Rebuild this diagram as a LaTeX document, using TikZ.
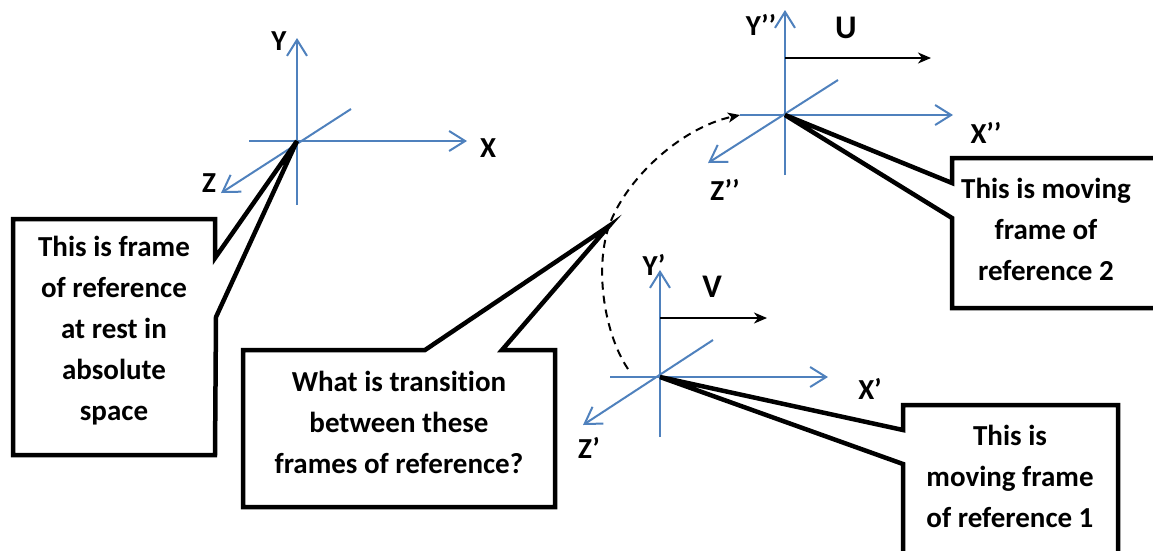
\documentclass[tikz,border=0pt]{standalone}
\usepackage{fontspec}
\setmainfont[Ligatures=NoCommon]{Carlito}
\usetikzlibrary{arrows.meta}
\definecolor{axisblue}{HTML}{4F81BD}

\begin{document}
\begin{tikzpicture}[x=1pt, y=-1pt,
    axis/.style={axisblue, line width=2pt},
    axisarrow/.style={axis, -{Straight Barb[length=16pt, width=20pt]}},
    velarrow/.style={line width=2pt, -{Stealth[length=13pt, width=11pt, inset=4pt]}},
    callout/.style={line width=4.5pt, line join=miter},
    axislabel/.style={font=\fontsize{29}{35}\selectfont\bfseries, inner sep=0pt},
    vellabel/.style={font=\fontsize{33}{40}\selectfont\bfseries, inner sep=0pt},
    note/.style={font=\fontsize{29}{41}\selectfont\bfseries, align=center, inner sep=0pt}]
    \clip (0,0) rectangle (1153,550);

    % frame at rest
    \coordinate (o0) at (297,141);
    \draw[axisarrow] (o0) ++(0,64) -- ++(0,-167);
    \draw[axisarrow] (o0) ++(-48,0) -- ++(218,0);
    \draw[axisarrow] (o0) ++(54,-32) -- ++(-130,84);
    \node[axislabel] (y0) at (279,41) {Y};
    \node[axislabel] (x0) at (488,148) {X};
    \node[axislabel] (z0) at (209,183) {Z};

    % moving frame 2
    \coordinate (o2) at (785,115);
    \draw[axisarrow] (o2) ++(0,60) -- ++(0,-165);
    \draw[axisarrow] (o2) ++(-45,0) -- ++(213,0);
    \draw[axisarrow] (o2) ++(53,-35) -- ++(-130,83);
    \coordinate (x2l) at (740,115);
    \node[axislabel] (y2) at (761,25) {Y’’};
    \node[axislabel] (x2) at (986,133) {X’’};
    \node[axislabel] (z2) at (725,190) {Z’’};
    \coordinate (u0) at (785,58);
    \coordinate (u1) at (931,58);
    \draw[velarrow] (u0) -- (u1);
    \node[vellabel] (u) at (846,28) {U};

    % moving frame 1
    \coordinate (o1) at (660,377);
    \draw[axisarrow] (o1) ++(0,60) -- ++(0,-167);
    \draw[axisarrow] (o1) ++(-50,0) -- ++(218,0);
    \draw[axisarrow] (o1) ++(53,-37) -- ++(-130,85);
    \node[axislabel] (y1) at (654,265) {Y’};
    \node[axislabel] (x1) at (870,389) {X’};
    \node[axislabel] (z1) at (589,448) {Z’};
    \coordinate (v0) at (660,318);
    \coordinate (v1) at (767,318);
    \draw[velarrow] (v0) -- (v1);
    \node[vellabel] (v) at (712,287) {V};

    % transition
    \coordinate (d0) at (628,369);
    \coordinate (tip) at (609,226);
    \draw[line width=2pt, dash pattern=on 8pt off 6pt, -{Stealth[length=12pt, width=10pt, inset=3pt]}]
        (d0) .. controls (605,335) and (594,270) .. (tip)
        .. controls (625,180) and (680,128) .. (x2l);

    % callouts
    \draw[callout] (13,219) -- (215,219) -- (215,258) -- (o0) -- (216,317) -- (215,455) -- (13,455) -- cycle;
    \node[note] (rest) at (114,331) {This is frame\\of reference\\at rest in\\absolute\\space};

    \draw[callout] (243,350) -- (425,350) -- (tip) -- (502,350) -- (555,350) -- (555,507) -- (243,507) -- cycle;
    \node[note] (question) at (399,422) {What is transition\\between these\\frames of reference?};

    \draw[callout] (952,158) -- (1165,158) -- (1165,308) -- (952,308) -- (952,218) -- (o2) -- (952,183) -- cycle;
    \node[note] (moving2) at (1046,229) {This is moving\\frame of\\reference 2};

    \draw[callout] (903,405) -- (1118,405) -- (1118,560) -- (903,560) -- (903,464) -- (o1) -- (903,430) -- cycle;
    \node[note] (moving1) at (1010,476) {This is\\moving frame\\of reference 1};
\end{tikzpicture}
\end{document}
